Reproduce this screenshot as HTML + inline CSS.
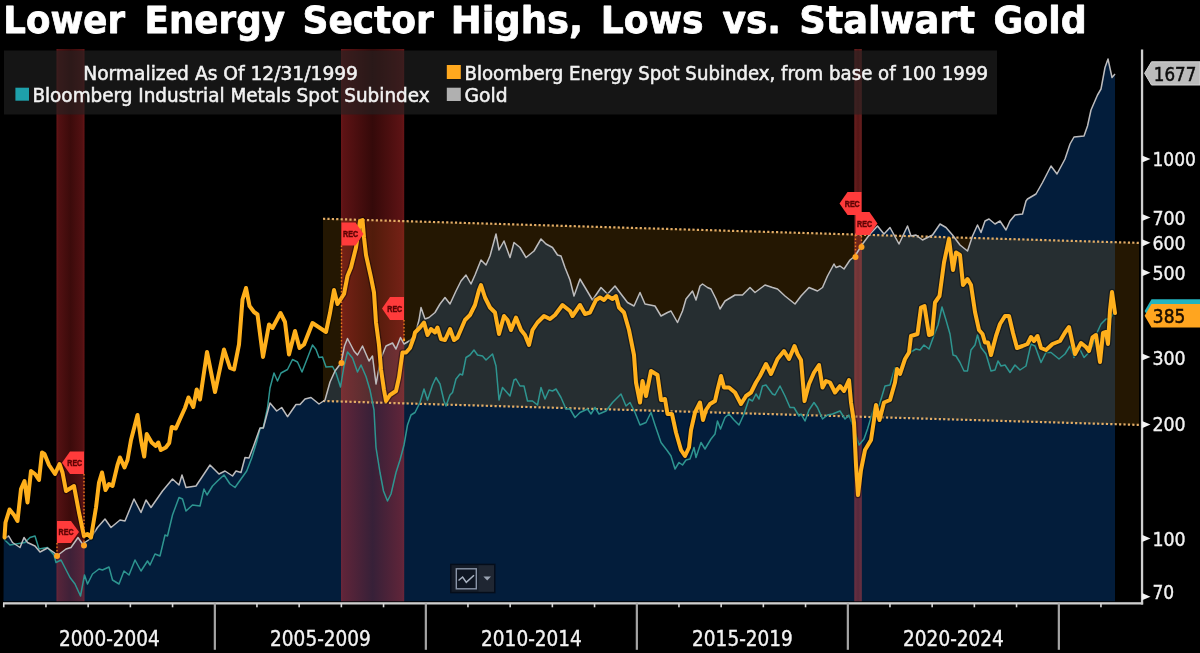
<!DOCTYPE html>
<html><head><meta charset="utf-8"><title>Lower Energy Sector Highs, Lows vs. Stalwart Gold</title>
<style>
html,body{margin:0;padding:0;background:#000;}
body{width:1200px;height:653px;overflow:hidden;position:relative;}
svg{position:absolute;left:0;top:0;display:block;}
.ttl{font-family:"DejaVu Sans","Liberation Sans",sans-serif;font-weight:bold;font-size:38px;fill:#fff;stroke:#fff;stroke-width:0.8px;stroke-linejoin:round;}
.lg{font-family:"DejaVu Sans Condensed","DejaVu Sans","Liberation Sans",sans-serif;font-stretch:condensed;font-size:19.5px;fill:#f2f2f2;stroke:#f2f2f2;stroke-width:0.5px;}
.ax{font-family:"DejaVu Sans Condensed","DejaVu Sans","Liberation Sans",sans-serif;font-stretch:condensed;font-size:20.4px;fill:#f2f2f2;stroke:#f2f2f2;stroke-width:0.35px;}
.tag{font-family:"DejaVu Sans Condensed","DejaVu Sans","Liberation Sans",sans-serif;font-stretch:condensed;font-size:20px;}
</style></head>
<body>
<svg width="1200" height="653" viewBox="0 0 1200 653">
<defs>
<filter id="soft" x="-2%" y="-2%" width="104%" height="104%"><feGaussianBlur stdDeviation="0.4"/></filter>
<linearGradient id="rg" x1="0" x2="1" y1="0" y2="0">
<stop offset="0" stop-color="#fa3237" stop-opacity="0.42"/>
<stop offset="0.04" stop-color="#fa3237" stop-opacity="0.37"/>
<stop offset="0.5" stop-color="#fa2d2d" stop-opacity="0.21"/>
<stop offset="0.96" stop-color="#fa3237" stop-opacity="0.37"/>
<stop offset="1" stop-color="#fa3237" stop-opacity="0.42"/>
</linearGradient>
<linearGradient id="rg1" x1="0" x2="1" y1="0" y2="0">
<stop offset="0" stop-color="#fa3237" stop-opacity="0.42"/>
<stop offset="0.08" stop-color="#fa3237" stop-opacity="0.33"/>
<stop offset="0.5" stop-color="#fa2d2d" stop-opacity="0.24"/>
<stop offset="0.92" stop-color="#fa3237" stop-opacity="0.33"/>
<stop offset="1" stop-color="#fa3237" stop-opacity="0.42"/>
</linearGradient>
<linearGradient id="rg3" x1="0" x2="1" y1="0" y2="0">
<stop offset="0" stop-color="#fa4a4a" stop-opacity="0.42"/>
<stop offset="0.5" stop-color="#fa4040" stop-opacity="0.34"/>
<stop offset="1" stop-color="#fa4a4a" stop-opacity="0.42"/>
</linearGradient>
</defs>
<rect width="1200" height="653" fill="#000"/>
<!-- gold area -->
<path d="M3.5,601.2 L3.75,538.75 L8.75,536 L12.5,542.5 L20,547.5 L24,537.5 L27.5,542.5 L35,546 L40,552 L47.5,548 L54,552.5 L57.5,555.5 L66,549 L71,547.5 L78,537.5 L82.5,544 L90,539 L97.5,527.5 L105,519 L111,527.5 L120,520 L125,521 L134,499 L141,512.5 L146,500 L151,507.5 L162.5,491 L172.5,479 L179,485 L182,475 L186,487.5 L196,486 L210,465 L219,474 L225,471 L232.5,476 L236,471 L241,472.5 L245,457.5 L249,458 L253.3,446.7 L260,428 L263.3,428 L270,403 L276.7,411 L281.7,407.5 L287.5,416.7 L296,404.5 L300,404.5 L305,399 L311,397.5 L319,404 L325,400 L330,382 L335,371 L341,363 L344.5,346 L347.5,338.5 L354,351 L357.5,355 L362.5,346 L369,361 L372.5,356 L376,384 L381,358 L386,346 L392.5,343 L396,349 L400.5,337.5 L404,344 L410,340.5 L415,335 L419,320 L421,307.5 L425,319 L429,317.5 L435,312.5 L440,304 L445,297.5 L450,304 L456,291 L461,281 L466,275 L471,284 L475,275 L481,260 L486,265 L490,256 L496,234 L499,250 L504,241 L510,257.5 L514,242.5 L520,247.5 L526,257.5 L534,251 L541,239 L546,244 L552.5,247.5 L557.5,255 L561,256 L565,267.5 L570,280 L574,296 L580,279 L586,289 L592.5,300 L601,287.5 L607.5,294 L615,286 L621,294 L627.5,302.5 L634,306 L640,292.5 L645,304 L655,306 L661,316 L667.5,312.5 L671,311 L677.5,322.5 L682.5,311 L686,299 L692.5,291 L696,300 L700,286 L702.5,284 L707.5,287.5 L711,289 L716,299 L720,309 L725,301 L735,295 L742.5,295 L750,287.5 L755,292.5 L765,285 L772.5,287.5 L777.5,289 L785,296 L795,304 L801,296 L809,287.5 L817.5,291 L822.5,287.5 L827.5,276 L834,264 L836,267.5 L840,266 L844,269 L850,260 L855,256 L862.5,244 L870,234 L877.5,226 L884,234 L890,227.5 L899,244 L907.5,226 L911,236 L916,235 L922.5,240 L932.5,235 L940,224 L946,227.5 L952.5,235 L960,245 L967.5,251 L972.5,236 L977.5,225 L981,232.5 L985,221 L989,219 L995,224 L1000,221 L1006,230 L1010,221 L1015,215 L1022.5,214 L1026,201 L1027.5,199 L1036,194 L1042.5,182.5 L1051,166 L1057,174 L1065,159 L1070,144 L1074,137 L1084,136 L1087.5,126 L1091,110 L1097.5,95 L1101,89 L1105,67.5 L1108,59 L1112,77.5 L1115,74 L1115,601.2 Z" fill="#031d3b"/>
<!-- channel -->
<path d="M323,218.75 L1139,242.90 L1139,424.91 L323,401.00 Z" fill="#b6750b" fill-opacity="0.2"/>
<!-- recession bands -->
<rect x="56.5" y="49" width="28.0" height="552.3" fill="url(#rg1)"/>
<rect x="341" y="49" width="63.19999999999999" height="552.3" fill="url(#rg)"/>
<rect x="854.3" y="49" width="7.5" height="552.3" fill="url(#rg3)"/>
<!-- legend box -->
<rect x="4" y="50.5" width="993" height="64" fill="#232323" fill-opacity="0.6"/>
<!-- channel dotted lines -->
<line x1="323" y1="218.75" x2="1139" y2="242.90" stroke="#e3ad66" stroke-width="2.2" stroke-dasharray="2.2 2.2"/>
<line x1="323" y1="401.00" x2="1139" y2="424.91" stroke="#e3ad66" stroke-width="2.2" stroke-dasharray="2.2 2.2"/>
<!-- series -->
<g filter="url(#soft)">
<polyline points="3.75,539 10,545 25,542.5 30,537.5 35,536 39,549 47.5,547.5 54,555 56,562.5 61,560 70,577.5 75,584 80.5,596 84.5,575 87.5,584 92.5,574 99,569 102.5,570 109,567 112.5,580 119,584 124,571 129,575 135,560 141,571 147.5,561 150,565 155,554 160,556 165,535 167.5,536 172.5,515 179,497.5 182.5,499 186,511 192.5,505 200,506 204,489 207,495 212.5,486 217.5,481 224,475 230,484 235,487.5 241,479 246.7,471 251.7,458 256.7,441.7 260,428.5 263.3,427.5 267.5,408 270,388 274,373 277.5,381 281,373 287.5,369.5 292.5,359.5 297.5,362 302,372 312.5,345 316,349.5 319,357.5 322.5,357 326,367 332.5,366.5 336,373 340.5,387 344,366 347.5,352 352.5,358 357.5,372 361,365 366,376.5 370,390 374,410 376,447.5 380,472.5 383.5,491 387.5,501 391,494 396,472.5 400,460 404,445 407.5,425 411,415 415,412.5 420,402.5 424,389 427.5,400 432.5,385 436,377.5 440,384 444,401 446,406 450,395 452.5,392.5 456,379 460,374 462.5,375 466,357.5 470,355 474,350 477.5,355 482.5,356 486,360 492.5,354 496,366 499,400 502.5,387.5 510,396 514,380 516,379 520,386 524,386 527.5,401 532.5,401 537.5,405 541,387.5 545,399 549,390 552.5,391 556,389 561,397.5 566,409 570,409 575,417.5 580,412.5 587.5,409 591,414 595,407.5 599,414 606,411 612.5,402.5 621,394 626,406 630,402.5 635,412.5 640,425 646,422.5 651,412.5 655,425 661,442.5 667.5,451 671,456 675,469 679,462.5 682.5,465 686,460 690,459 694,447.5 696,457.5 701,442.5 705,449 711,439 715,434 717.5,421 720.5,429 725,417.5 729,414 734,420 739,425 744,414 749,399 752.5,401 756,394 759,399 762.5,386 766,385 772.5,394 775,395 780,386 785,396 790,407.5 794,407.5 799,416 801,414 805,421 809,410 814,402.5 817.5,407.5 822.5,419 827.5,415 832.5,414 840,411 845,419 849,415 854,429 859,445 864,439 867.5,429 872.5,412.5 875.5,404 879,406 885,386 890,385 895,367.5 900,370 906,355 912.5,351 916,349 920,350 924,345 929,349 935,332.5 938,325 942,307 946,320 950,334 953,355 956,356 960,362.5 964,371 967.5,371 971,350 975,345 977.5,335 981,347.5 986,354 991,371 995,370 998,361 1001,366 1005,365 1010,372.5 1015,365 1020,370 1026,366 1031,344 1035,346 1041,362.5 1046,352.5 1051,352.5 1059,359 1065,354 1070,346 1074,357.5 1079,347.5 1084,357.5 1087.5,354 1092.5,346 1096,335 1101,324 1106,319 1110,319 1115,311" fill="none" stroke="#2e9590" stroke-width="1.5" stroke-linejoin="round"/>
<polyline points="3.75,538.75 8.75,536 12.5,542.5 20,547.5 24,537.5 27.5,542.5 35,546 40,552 47.5,548 54,552.5 57.5,555.5 66,549 71,547.5 78,537.5 82.5,544 90,539 97.5,527.5 105,519 111,527.5 120,520 125,521 134,499 141,512.5 146,500 151,507.5 162.5,491 172.5,479 179,485 182,475 186,487.5 196,486 210,465 219,474 225,471 232.5,476 236,471 241,472.5 245,457.5 249,458 253.3,446.7 260,428 263.3,428 270,403 276.7,411 281.7,407.5 287.5,416.7 296,404.5 300,404.5 305,399 311,397.5 319,404 325,400 330,382 335,371 341,363 344.5,346 347.5,338.5 354,351 357.5,355 362.5,346 369,361 372.5,356 376,384 381,358 386,346 392.5,343 396,349 400.5,337.5 404,344 410,340.5 415,335 419,320 421,307.5 425,319 429,317.5 435,312.5 440,304 445,297.5 450,304 456,291 461,281 466,275 471,284 475,275 481,260 486,265 490,256 496,234 499,250 504,241 510,257.5 514,242.5 520,247.5 526,257.5 534,251 541,239 546,244 552.5,247.5 557.5,255 561,256 565,267.5 570,280 574,296 580,279 586,289 592.5,300 601,287.5 607.5,294 615,286 621,294 627.5,302.5 634,306 640,292.5 645,304 655,306 661,316 667.5,312.5 671,311 677.5,322.5 682.5,311 686,299 692.5,291 696,300 700,286 702.5,284 707.5,287.5 711,289 716,299 720,309 725,301 735,295 742.5,295 750,287.5 755,292.5 765,285 772.5,287.5 777.5,289 785,296 795,304 801,296 809,287.5 817.5,291 822.5,287.5 827.5,276 834,264 836,267.5 840,266 844,269 850,260 855,256 862.5,244 870,234 877.5,226 884,234 890,227.5 899,244 907.5,226 911,236 916,235 922.5,240 932.5,235 940,224 946,227.5 952.5,235 960,245 967.5,251 972.5,236 977.5,225 981,232.5 985,221 989,219 995,224 1000,221 1006,230 1010,221 1015,215 1022.5,214 1026,201 1027.5,199 1036,194 1042.5,182.5 1051,166 1057,174 1065,159 1070,144 1074,137 1084,136 1087.5,126 1091,110 1097.5,95 1101,89 1105,67.5 1108,59 1112,77.5 1115,74" fill="none" stroke="#bdbcbd" stroke-width="1.5" stroke-linejoin="round"/>
<polyline points="4.5,537.5 5.5,522.5 9.5,509.5 14,515 17.5,521 21,489 24.5,481 27.5,502.5 31,471 35,474 39,480 42,452.5 44.5,454 49,465 55,474 59.5,464 62.5,472.5 66,491 74,486 79,512.5 84,536 87.5,534 91,537.5 96,507.5 99,482.5 102,472.5 105.5,490 109,484 112.5,486 117.5,465 120,457.5 124.5,467.5 127.5,460 131,440 137.5,415 141,440 144.2,456.5 146.7,434 151.7,442.5 155.8,446 158.3,442.5 160.8,450 165.8,447.5 169.2,443 171.7,427 175.8,428.5 180,419 185,408 188.5,397.5 193.3,407 196.7,389.5 200,399.5 207,352 215,392 224,349.5 230,368 234,369.5 239,344.5 242.5,299.5 246,288 249.5,306 254,312 257.5,314.5 263,357 269,324.5 272.5,328 280.5,313 285,322 289,354.5 295,331 299.5,348 304,344.5 312.5,323 320,328 326,332 330,313 334,290 337.5,304 344,294 347.5,276 351,267.5 356,247.5 360,221 362.5,220 364,237.5 366,255 371,277.5 374,292.5 376,322.5 379,345 381,369.5 384,390 386,401 390,395 396,391 399,377.5 402.5,352.5 406,352.5 410,348 414,337 415,332.5 420,327.5 424,322.5 427.5,335 431,329 435,332.5 437.5,327.5 441,339 445,340 450,329 454,340 457.5,337.5 465,320 470,315 475,305 479,290 481,285 485,297.5 490,307.5 495,312.5 499,334 504,316 507.5,320 511,330 516,317.5 521,330 525,335 529,345 532.5,330 537.5,322.5 544,316 550,319 555,315 562.5,305 570,311 572.5,316 580,305 585,314 590,312.5 596,300 600,297.5 604,300 607.5,296 612.5,299 616,296 619,307.5 624,312.5 629,330 631,340 634,355 636,382.5 640,402.5 642.5,381 646,396 651,371 657.5,375 661,400 665,399 667.5,414 672,414 676,432.5 681,450 685,456 689,447.5 691,430 695,412.5 700,402.5 703,420 706,410 710,404 715,401 717.5,390 721,376 724,387.5 729,387.5 735,392.5 741,404 746,396 751,392.5 756,382.5 760,376 766,364 771,374 777.5,359 784,351 789,359 794.5,346 797.5,354 801,360 804.5,401 809,384 814,372.5 819,365 822.5,387.5 826,381 830,382.5 835,392.5 840,386 844,391 849,380 851,402.5 854,422.5 856,465 858,495 861,470 865,450 871,440 874,420 876,405 879.5,420 884,402.5 890,400 895,382.5 897,369 900,374 905,359 909,352.5 911,336 917.5,334 921,307.5 924.5,306 929,335 932,334 935,302.5 939.5,296 944,262.5 949,239 953,270 956,252.5 960,255 963,285 967.5,279 971,285 975,312 979,330 982.5,334 985,342.5 988,342.5 991,355 996,336 1000,324 1005,316 1009,316 1013,333 1017,348 1022.5,346 1027.5,344 1031,337 1034,341 1037.5,336 1041,348 1046,350 1052.5,344 1060,341 1065,332.5 1069,327 1072.5,343 1075,354 1081,343 1086,347 1089,351 1092.5,337.5 1096,335 1100,362 1103,333 1106,332 1108,344 1110,310 1112,292 1115,313" fill="none" stroke="#000" stroke-opacity="0.4" stroke-width="6.6" stroke-linejoin="round" stroke-linecap="round"/>
<polyline points="4.5,537.5 5.5,522.5 9.5,509.5 14,515 17.5,521 21,489 24.5,481 27.5,502.5 31,471 35,474 39,480 42,452.5 44.5,454 49,465 55,474 59.5,464 62.5,472.5 66,491 74,486 79,512.5 84,536 87.5,534 91,537.5 96,507.5 99,482.5 102,472.5 105.5,490 109,484 112.5,486 117.5,465 120,457.5 124.5,467.5 127.5,460 131,440 137.5,415 141,440 144.2,456.5 146.7,434 151.7,442.5 155.8,446 158.3,442.5 160.8,450 165.8,447.5 169.2,443 171.7,427 175.8,428.5 180,419 185,408 188.5,397.5 193.3,407 196.7,389.5 200,399.5 207,352 215,392 224,349.5 230,368 234,369.5 239,344.5 242.5,299.5 246,288 249.5,306 254,312 257.5,314.5 263,357 269,324.5 272.5,328 280.5,313 285,322 289,354.5 295,331 299.5,348 304,344.5 312.5,323 320,328 326,332 330,313 334,290 337.5,304 344,294 347.5,276 351,267.5 356,247.5 360,221 362.5,220 364,237.5 366,255 371,277.5 374,292.5 376,322.5 379,345 381,369.5 384,390 386,401 390,395 396,391 399,377.5 402.5,352.5 406,352.5 410,348 414,337 415,332.5 420,327.5 424,322.5 427.5,335 431,329 435,332.5 437.5,327.5 441,339 445,340 450,329 454,340 457.5,337.5 465,320 470,315 475,305 479,290 481,285 485,297.5 490,307.5 495,312.5 499,334 504,316 507.5,320 511,330 516,317.5 521,330 525,335 529,345 532.5,330 537.5,322.5 544,316 550,319 555,315 562.5,305 570,311 572.5,316 580,305 585,314 590,312.5 596,300 600,297.5 604,300 607.5,296 612.5,299 616,296 619,307.5 624,312.5 629,330 631,340 634,355 636,382.5 640,402.5 642.5,381 646,396 651,371 657.5,375 661,400 665,399 667.5,414 672,414 676,432.5 681,450 685,456 689,447.5 691,430 695,412.5 700,402.5 703,420 706,410 710,404 715,401 717.5,390 721,376 724,387.5 729,387.5 735,392.5 741,404 746,396 751,392.5 756,382.5 760,376 766,364 771,374 777.5,359 784,351 789,359 794.5,346 797.5,354 801,360 804.5,401 809,384 814,372.5 819,365 822.5,387.5 826,381 830,382.5 835,392.5 840,386 844,391 849,380 851,402.5 854,422.5 856,465 858,495 861,470 865,450 871,440 874,420 876,405 879.5,420 884,402.5 890,400 895,382.5 897,369 900,374 905,359 909,352.5 911,336 917.5,334 921,307.5 924.5,306 929,335 932,334 935,302.5 939.5,296 944,262.5 949,239 953,270 956,252.5 960,255 963,285 967.5,279 971,285 975,312 979,330 982.5,334 985,342.5 988,342.5 991,355 996,336 1000,324 1005,316 1009,316 1013,333 1017,348 1022.5,346 1027.5,344 1031,337 1034,341 1037.5,336 1041,348 1046,350 1052.5,344 1060,341 1065,332.5 1069,327 1072.5,343 1075,354 1081,343 1086,347 1089,351 1092.5,337.5 1096,335 1100,362 1103,333 1106,332 1108,344 1110,310 1112,292 1115,313" fill="none" stroke="#ffb01e" stroke-width="4" stroke-linejoin="round" stroke-linecap="round"/>
</g>
<!-- markers -->
<line x1="57" y1="543" x2="57" y2="556" stroke="#ff8a1e" stroke-width="1.4" stroke-dasharray="1.5 2" opacity="0.85"/><circle cx="57" cy="556" r="3" fill="#ffa21f"/><path d="M57,521 L71,521 L79,532.0 L71,543 L57,543 Z" fill="#ff3b3b"/><text x="58.55" y="535.3" style="font-family:'Liberation Sans',sans-serif;font-weight:700;font-size:8.4px" fill="#5e0404" stroke="#5e0404" stroke-width="0.45" textLength="15" lengthAdjust="spacingAndGlyphs">REC</text><line x1="84" y1="474" x2="84" y2="545.5" stroke="#ff8a1e" stroke-width="1.4" stroke-dasharray="1.5 2" opacity="0.85"/><circle cx="84" cy="545.5" r="3" fill="#ffa21f"/><path d="M84,451.5 L70,451.5 L62,462.75 L70,474 L84,474 Z" fill="#ff3b3b"/><text x="67.25" y="466.05" style="font-family:'Liberation Sans',sans-serif;font-weight:700;font-size:8.4px" fill="#5e0404" stroke="#5e0404" stroke-width="0.45" textLength="15" lengthAdjust="spacingAndGlyphs">REC</text><line x1="341.5" y1="245.5" x2="341.5" y2="363" stroke="#ff8a1e" stroke-width="1.4" stroke-dasharray="1.5 2" opacity="0.85"/><circle cx="341.5" cy="363" r="3" fill="#ffa21f"/><path d="M341.5,222.5 L355.5,222.5 L363.5,234.0 L355.5,245.5 L341.5,245.5 Z" fill="#ff3b3b"/><text x="343.05" y="237.3" style="font-family:'Liberation Sans',sans-serif;font-weight:700;font-size:8.4px" fill="#5e0404" stroke="#5e0404" stroke-width="0.45" textLength="15" lengthAdjust="spacingAndGlyphs">REC</text><line x1="404" y1="320" x2="404" y2="340" stroke="#ff8a1e" stroke-width="1.4" stroke-dasharray="1.5 2" opacity="0.85"/><circle cx="404" cy="340" r="1.2" fill="#ffa21f"/><path d="M404,297 L390,297 L382,308.5 L390,320 L404,320 Z" fill="#ff3b3b"/><text x="387.25" y="311.8" style="font-family:'Liberation Sans',sans-serif;font-weight:700;font-size:8.4px" fill="#5e0404" stroke="#5e0404" stroke-width="0.45" textLength="15" lengthAdjust="spacingAndGlyphs">REC</text><line x1="861.5" y1="215" x2="861.5" y2="247" stroke="#ff8a1e" stroke-width="1.4" stroke-dasharray="1.5 2" opacity="0.85"/><circle cx="861.5" cy="247" r="3" fill="#ffa21f"/><path d="M861.5,192 L847.5,192 L839.5,203.5 L847.5,215 L861.5,215 Z" fill="#ff3b3b"/><text x="844.75" y="206.8" style="font-family:'Liberation Sans',sans-serif;font-weight:700;font-size:8.4px" fill="#5e0404" stroke="#5e0404" stroke-width="0.45" textLength="15" lengthAdjust="spacingAndGlyphs">REC</text><line x1="855.5" y1="235" x2="855.5" y2="257" stroke="#ff8a1e" stroke-width="1.4" stroke-dasharray="1.5 2" opacity="0.85"/><circle cx="855.5" cy="257" r="3" fill="#ffa21f"/><path d="M855.5,212 L869.5,212 L877.5,223.5 L869.5,235 L855.5,235 Z" fill="#ff3b3b"/><text x="857.05" y="226.8" style="font-family:'Liberation Sans',sans-serif;font-weight:700;font-size:8.4px" fill="#5e0404" stroke="#5e0404" stroke-width="0.45" textLength="15" lengthAdjust="spacingAndGlyphs">REC</text>
<!-- icon -->
<g>
<rect x="450.8" y="564.4" width="44" height="28.2" fill="#151c28" stroke="#050d1a" stroke-width="1.4"/>
<rect x="478.5" y="565.4" width="15.5" height="26.2" fill="#1f2632"/>
<rect x="456.3" y="568.8" width="20" height="20" fill="#0f1622" stroke="#8a95a8" stroke-width="1.4"/>
<polyline points="458.5,580.5 462.6,577 466.3,582.4 474,575.2" fill="none" stroke="#aab3c2" stroke-width="1.5"/>
<path d="M483.4,576.6 L491,576.6 L487.2,580.4 Z" fill="#9aa3b2"/>
</g>
<!-- axes -->
<rect x="1140.9" y="49.5" width="2.3" height="555.0" fill="#cfcfcf"/>
<rect x="3" y="602.1999999999999" width="1140.1" height="2.3" fill="#cfcfcf"/>
<rect x="2.95" y="603.3" width="1.6" height="4" fill="#d8d8d8"/><rect x="45.15" y="603.3" width="1.6" height="4" fill="#d8d8d8"/><rect x="87.35" y="603.3" width="1.6" height="4" fill="#d8d8d8"/><rect x="129.55" y="603.3" width="1.6" height="4" fill="#d8d8d8"/><rect x="171.75" y="603.3" width="1.6" height="4" fill="#d8d8d8"/><rect x="213.75" y="603.3" width="2.2" height="46.5" fill="#a4a4a4"/><rect x="256.15" y="603.3" width="1.6" height="4" fill="#d8d8d8"/><rect x="298.35" y="603.3" width="1.6" height="4" fill="#d8d8d8"/><rect x="340.55" y="603.3" width="1.6" height="4" fill="#d8d8d8"/><rect x="382.75" y="603.3" width="1.6" height="4" fill="#d8d8d8"/><rect x="424.75" y="603.3" width="2.2" height="46.5" fill="#a4a4a4"/><rect x="467.15" y="603.3" width="1.6" height="4" fill="#d8d8d8"/><rect x="509.35" y="603.3" width="1.6" height="4" fill="#d8d8d8"/><rect x="551.55" y="603.3" width="1.6" height="4" fill="#d8d8d8"/><rect x="593.75" y="603.3" width="1.6" height="4" fill="#d8d8d8"/><rect x="635.75" y="603.3" width="2.2" height="46.5" fill="#a4a4a4"/><rect x="678.15" y="603.3" width="1.6" height="4" fill="#d8d8d8"/><rect x="720.35" y="603.3" width="1.6" height="4" fill="#d8d8d8"/><rect x="762.55" y="603.3" width="1.6" height="4" fill="#d8d8d8"/><rect x="804.75" y="603.3" width="1.6" height="4" fill="#d8d8d8"/><rect x="846.75" y="603.3" width="2.2" height="46.5" fill="#a4a4a4"/><rect x="889.15" y="603.3" width="1.6" height="4" fill="#d8d8d8"/><rect x="931.35" y="603.3" width="1.6" height="4" fill="#d8d8d8"/><rect x="973.55" y="603.3" width="1.6" height="4" fill="#d8d8d8"/><rect x="1015.75" y="603.3" width="1.6" height="4" fill="#d8d8d8"/><rect x="1057.75" y="603.3" width="2.2" height="46.5" fill="#a4a4a4"/><rect x="1100.15" y="603.3" width="1.6" height="4" fill="#d8d8d8"/>
<path d="M1142.0,155.4 L1150.5,159 L1142.0,162.6 Z" fill="#f2f2f2"/><text x="1152.4" y="166.4" class="ax" style="font-size:19.6px" textLength="43.5" lengthAdjust="spacingAndGlyphs">1000</text><path d="M1142.0,213.9 L1150.5,217.5 L1142.0,221.1 Z" fill="#f2f2f2"/><text x="1152.4" y="224.5" class="ax" style="font-size:19.6px" textLength="33.3" lengthAdjust="spacingAndGlyphs">700</text><path d="M1142.0,239.20000000000002 L1150.5,242.8 L1142.0,246.4 Z" fill="#f2f2f2"/><text x="1152.4" y="250.2" class="ax" style="font-size:19.6px" textLength="33.3" lengthAdjust="spacingAndGlyphs">600</text><path d="M1142.0,269.09999999999997 L1150.5,272.7 L1142.0,276.3 Z" fill="#f2f2f2"/><text x="1152.4" y="280.1" class="ax" style="font-size:19.6px" textLength="33.3" lengthAdjust="spacingAndGlyphs">500</text><path d="M1142.0,353.4 L1150.5,357 L1142.0,360.6 Z" fill="#f2f2f2"/><text x="1152.4" y="364.90000000000003" class="ax" style="font-size:19.6px" textLength="33.3" lengthAdjust="spacingAndGlyphs">300</text><path d="M1142.0,421.0 L1150.5,424.6 L1142.0,428.20000000000005 Z" fill="#f2f2f2"/><text x="1152.4" y="431.3" class="ax" style="font-size:19.6px" textLength="33.3" lengthAdjust="spacingAndGlyphs">200</text><path d="M1142.0,534.8 L1150.5,538.4 L1142.0,542.0 Z" fill="#f2f2f2"/><text x="1152.4" y="545.6" class="ax" style="font-size:19.6px" textLength="33.3" lengthAdjust="spacingAndGlyphs">100</text><path d="M1142.0,593.1 L1150.5,596.7 L1142.0,600.3000000000001 Z" fill="#f2f2f2"/><text x="1152.4" y="599.1" class="ax" style="font-size:19.6px" textLength="21.8" lengthAdjust="spacingAndGlyphs">70</text>
<text x="59.1" y="645.7" class="ax" textLength="100.8" lengthAdjust="spacingAndGlyphs">2000-2004</text><text x="270.1" y="645.7" class="ax" textLength="100.8" lengthAdjust="spacingAndGlyphs">2005-2009</text><text x="481.1" y="645.7" class="ax" textLength="100.8" lengthAdjust="spacingAndGlyphs">2010-2014</text><text x="692.1" y="645.7" class="ax" textLength="100.8" lengthAdjust="spacingAndGlyphs">2015-2019</text><text x="903.1" y="645.7" class="ax" textLength="100.8" lengthAdjust="spacingAndGlyphs">2020-2024</text>
<!-- value tags -->
<path d="M1144.6,73.3 L1151.5,61.8 L1200,61.8 L1200,85 L1151.5,85 Z" fill="#bcbcbc" stroke="#d6d6d6" stroke-width="1"/>
<text x="1153.8" y="80.6" class="tag" style="font-size:19.6px" fill="#0c0c0c" stroke="#0c0c0c" stroke-width="0.5" textLength="42.5" lengthAdjust="spacingAndGlyphs">1677</text>
<path d="M1144.6,311 L1151.5,299.3 L1200,299.3 L1200,322 L1151.5,322 Z" fill="#23b4c0"/>
<path d="M1144.6,315.8 L1151.5,304 L1200,304 L1200,327.6 L1151.5,327.6 Z" fill="#ffa51f"/>
<text x="1152.8" y="323" class="tag" fill="#1a0d00" stroke="#1a0d00" stroke-width="0.5" textLength="32.5" lengthAdjust="spacingAndGlyphs">385</text>
<!-- legend -->
<text x="83.2" y="79.8" class="lg" textLength="274.8" lengthAdjust="spacingAndGlyphs">Normalized As Of 12/31/1999</text>
<rect x="15.4" y="87.7" width="13.6" height="13" fill="#1ea0aa"/>
<text x="32.4" y="102.2" class="lg" textLength="397.2" lengthAdjust="spacingAndGlyphs">Bloomberg Industrial Metals Spot Subindex</text>
<rect x="446.8" y="65" width="14" height="14" fill="#ffa81e"/>
<text x="464.5" y="79.8" class="lg" textLength="523.5" lengthAdjust="spacingAndGlyphs">Bloomberg Energy Spot Subindex, from base of 100 1999</text>
<rect x="446.8" y="87.7" width="14" height="13.3" fill="#b0b0b0"/>
<text x="464.5" y="102.2" class="lg" textLength="43" lengthAdjust="spacingAndGlyphs">Gold</text>
<!-- title -->
<text y="33.3" class="ttl"><tspan x="3.25" textLength="121.74" lengthAdjust="spacingAndGlyphs">Lower</tspan> <tspan x="144.50" textLength="140.50" lengthAdjust="spacingAndGlyphs">Energy</tspan> <tspan x="302.50" textLength="131.24" lengthAdjust="spacingAndGlyphs">Sector</tspan> <tspan x="450.75" textLength="132.37" lengthAdjust="spacingAndGlyphs">Highs,</tspan> <tspan x="600.75" textLength="102.81" lengthAdjust="spacingAndGlyphs">Lows</tspan> <tspan x="722.50" textLength="58.53" lengthAdjust="spacingAndGlyphs">vs.</tspan> <tspan x="799.25" textLength="175.74" lengthAdjust="spacingAndGlyphs">Stalwart</tspan> <tspan x="993.50" textLength="93.27" lengthAdjust="spacingAndGlyphs">Gold</tspan></text>
</svg>
</body></html>
